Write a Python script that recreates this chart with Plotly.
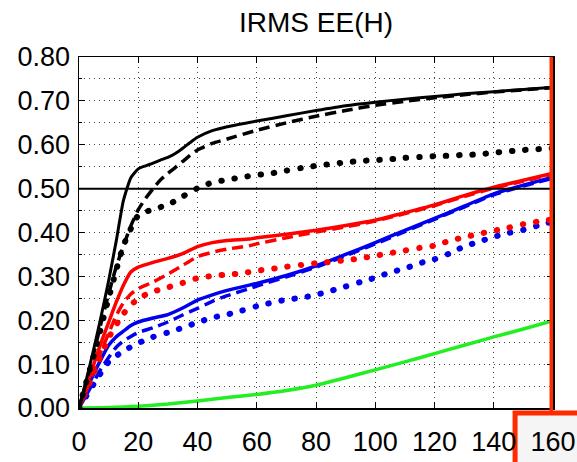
import plotly.graph_objects as go

# ---- data ----
x_fine = [0, 2.5, 5, 7.5, 10, 12.5, 15, 17.5, 20, 22.5, 25, 27.5, 30, 32.5, 35, 37.5, 40, 45, 50, 60, 70, 80, 90, 100, 110, 120, 130, 140, 150, 160]
x_mid = [0, 2.5, 5, 7.5, 10, 12.5, 15, 17.5, 20, 25, 30, 35, 40, 45, 50, 57.5, 60, 70, 80, 90, 100, 110, 120, 130, 140, 150, 160]
x_dot = [0, 5, 10, 15, 20, 25, 30, 35, 40, 45, 50, 55, 60, 65, 70, 75, 80, 85, 90, 95, 100, 105, 110, 115, 120, 125, 130, 135, 140, 145, 150, 155, 160]
x_green = [0, 10, 20, 30, 40, 50, 60, 70, 80, 90, 100, 110, 120, 130, 140, 150, 160]

black_solid = [0, 0.065, 0.135, 0.21, 0.29, 0.378, 0.473, 0.525, 0.545, 0.552, 0.558, 0.565, 0.571, 0.58, 0.592, 0.605, 0.617, 0.632, 0.641, 0.654, 0.666, 0.678, 0.689, 0.697, 0.704, 0.71, 0.716, 0.721, 0.726, 0.731]
black_dash = [0, 0.06, 0.125, 0.195, 0.26, 0.32, 0.37, 0.415, 0.452, 0.478, 0.50, 0.52, 0.535, 0.548, 0.562, 0.576, 0.588, 0.603, 0.613, 0.633, 0.65, 0.665, 0.678, 0.69, 0.699, 0.707, 0.714, 0.72, 0.725, 0.73]
black_dot = [0, 0.12, 0.25, 0.37, 0.439, 0.453, 0.463, 0.482, 0.501, 0.514, 0.52, 0.526, 0.531, 0.535, 0.541, 0.547, 0.552, 0.556, 0.56, 0.563, 0.565, 0.567, 0.57, 0.572, 0.574, 0.575, 0.577, 0.578, 0.582, 0.585, 0.588, 0.59, 0.592]

red_solid = [0, 0.05, 0.10, 0.15, 0.195, 0.24, 0.28, 0.31, 0.321, 0.332, 0.341, 0.352, 0.368, 0.377, 0.382, 0.385, 0.388, 0.396, 0.405, 0.416, 0.428, 0.445, 0.463, 0.484, 0.503, 0.519, 0.535]
red_dash = [0, 0.04, 0.085, 0.13, 0.17, 0.21, 0.24, 0.26, 0.272, 0.287, 0.305, 0.325, 0.345, 0.355, 0.362, 0.370, 0.374, 0.388, 0.401, 0.413, 0.426, 0.443, 0.461, 0.482, 0.501, 0.517, 0.533]
red_dot = [0, 0.08, 0.16, 0.215, 0.25, 0.265, 0.275, 0.285, 0.296, 0.301, 0.304, 0.307, 0.313, 0.317, 0.322, 0.326, 0.33, 0.333, 0.337, 0.341, 0.347, 0.353, 0.359, 0.365, 0.37, 0.381, 0.389, 0.397, 0.404, 0.411, 0.419, 0.425, 0.43]

blue_solid = [0, 0.04, 0.078, 0.112, 0.143, 0.162, 0.175, 0.188, 0.196, 0.205, 0.213, 0.228, 0.246, 0.258, 0.268, 0.28, 0.284, 0.302, 0.324, 0.35, 0.377, 0.405, 0.432, 0.46, 0.488, 0.508, 0.526]
blue_dash = [0, 0.03, 0.06, 0.09, 0.115, 0.138, 0.153, 0.163, 0.172, 0.183, 0.196, 0.212, 0.227, 0.243, 0.256, 0.272, 0.278, 0.299, 0.321, 0.347, 0.374, 0.402, 0.43, 0.458, 0.486, 0.506, 0.524]
blue_dot = [0, 0.055, 0.105, 0.13, 0.148, 0.162, 0.172, 0.183, 0.195, 0.206, 0.213, 0.222, 0.232, 0.24, 0.247, 0.251, 0.258, 0.267, 0.277, 0.287, 0.297, 0.309, 0.318, 0.33, 0.339, 0.352, 0.368, 0.379, 0.39, 0.399, 0.406, 0.416, 0.425]

green_solid = [0, 0.001, 0.004, 0.009, 0.016, 0.024, 0.031, 0.04, 0.052, 0.069, 0.087, 0.105, 0.124, 0.143, 0.162, 0.18, 0.199]

ref_level = 0.5
x_tick_vals = [0, 20, 40, 60, 80, 100, 120, 140, 160]
y_tick_vals = [0.0, 0.1, 0.2, 0.3, 0.4, 0.5, 0.6, 0.7, 0.8]

BLACK, RED, BLUE, GREEN = "#000000", "#ff0000", "#0000ee", "#22ee22"
DASH = "11px,6px"
DOT = "0.5px,12.8px"

fig = go.Figure()

def add(x, y, color, dash, width):
    fig.add_trace(go.Scatter(x=x, y=y, mode="lines",
                             line=dict(color=color, dash=dash, width=width, shape="spline", smoothing=0.5),
                             showlegend=False, hoverinfo="skip"))

add(x_green, green_solid, GREEN, "solid", 3.5)
add(x_dot, blue_dot, BLUE, DOT, 6)
add(x_mid, blue_dash, BLUE, DASH, 3.5)
add(x_mid, blue_solid, BLUE, "solid", 3.5)
add(x_dot, red_dot, RED, DOT, 6)
add(x_mid, red_dash, RED, DASH, 3.5)
add(x_mid, red_solid, RED, "solid", 3.5)
add(x_dot, black_dot, BLACK, DOT, 6)
add(x_fine, black_dash, BLACK, DASH, 3.5)
add(x_fine, black_solid, BLACK, "solid", 3)

FONT = "Liberation Sans, Arial, sans-serif"
GRID = "#444444"
GRIDDASH = "1px,4px"

fig.update_layout(
    width=577, height=462,
    margin=dict(l=79, r=24, t=57, b=54),
    paper_bgcolor="white", plot_bgcolor="white",
    font=dict(family=FONT, size=27, color="black"),
    title=dict(text="IRMS EE(H)", x=0.5, xref="paper", xanchor="center",
               y=0.953, yref="container", yanchor="middle",
               font=dict(family=FONT, size=28, color="black")),
    xaxis=dict(range=[0, 160], tickvals=x_tick_vals, showline=True, linecolor="black",
               linewidth=1.5, mirror="ticks", ticks="inside", ticklen=6, tickcolor="black",
               showgrid=True, gridcolor=GRID, griddash=GRIDDASH, gridwidth=1,
               zeroline=False, tickfont=dict(size=27), automargin=False,
               ticklabelstandoff=9),
    yaxis=dict(range=[0, 0.8], tickvals=y_tick_vals, tickformat=".2f", showline=True,
               linecolor="black", linewidth=1.5, mirror="ticks", ticks="inside", ticklen=6,
               tickcolor="black", showgrid=True, gridcolor=GRID, griddash=GRIDDASH,
               gridwidth=1, zeroline=False, tickfont=dict(size=27), automargin=False,
               ticklabelstandoff=2,
               minor=dict(dtick=0.05, showgrid=True, gridcolor=GRID, griddash=GRIDDASH,
                          gridwidth=1, ticks="inside", ticklen=3, tickcolor="black")),
)

# horizontal reference line at 0.5
fig.add_shape(type="line", xref="paper", yref="y", x0=0, x1=1, y0=ref_level, y1=ref_level,
              line=dict(color="black", width=2), layer="above")

# red highlight: vertical line at x=160 and box round the "160" label
fig.add_shape(type="line", xref="x", yref="paper", x0=160, x1=160, y0=1.0, y1=-0.014,
              line=dict(color="#ff2a00", width=7), layer="above")
fig.add_shape(type="rect", xref="paper", yref="paper", x0=0.92, x1=1.07, y0=-0.014, y1=-0.2,
              line=dict(color="#ff2a00", width=5), fillcolor="rgba(0,0,0,0.04)", layer="below")

post = """
document.body.style.margin = '0';
document.body.style.overflow = 'hidden';
var gd = document.getElementById('{plot_id}');
function roundDots(){
  gd.querySelectorAll('.scatterlayer path.js-line').forEach(function(p){
    var d = p.style.strokeDasharray || '';
    if (d.indexOf('12.8') >= 0) { p.style.strokeLinecap = 'round'; }
  });
}
roundDots();
gd.on('plotly_afterplot', roundDots);
"""
fig.write_html("out.html", post_script=post, config={"displayModeBar": False, "staticPlot": True})
